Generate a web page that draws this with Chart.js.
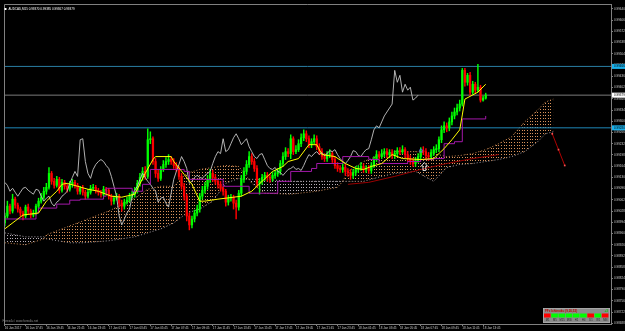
<!DOCTYPE html>
<html><head><meta charset="utf-8">
<script src="https://cdn.jsdelivr.net/npm/chart.js@4.4.1/dist/chart.umd.min.js"></script>
<style>html,body{margin:0;padding:0;background:#000;overflow:hidden}canvas{display:block}</style>
</head><body>
<canvas id="c" width="625" height="331"></canvas>
<script>
const symbol = 'AUDCAD,M15';
const timeLabels = ['16 Jan 2017','16 Jan 17:45','16 Jan 19:45','16 Jan 21:45','16 Jan 23:45',
 '17 Jan 01:45','17 Jan 03:45','17 Jan 05:45','17 Jan 07:45','17 Jan 09:45','17 Jan 11:45',
 '17 Jan 13:45','17 Jan 15:45','17 Jan 17:45','17 Jan 19:45','17 Jan 21:45','17 Jan 23:45',
 '18 Jan 01:45','18 Jan 03:45','18 Jan 05:45','18 Jan 07:45','18 Jan 09:45','18 Jan 11:45','18 Jan 13:45'];
const barsPerLabel = 8;
const priceTicks = [0.99640,0.99606,0.99572,0.99538,0.99504,0.99470,0.99436,0.99402,0.99368,0.99334,
 0.99300,0.99266,0.99232,0.99198,0.99164,0.99130,0.99096,0.99062,0.99028,0.98994,0.98960,0.98926,
 0.98892,0.98858,0.98824,0.98790,0.98756,0.98722,0.98688];

const opens = [
0.98992,0.99013,0.99043,0.99028,0.99064,0.99046,0.99034,0.99022,0.99013,0.99040,
0.99028,0.99016,0.99022,0.99043,0.99058,0.99070,0.99088,0.99100,0.99142,0.99118,
0.99106,0.99124,0.99091,0.99115,0.99103,0.99094,0.99109,0.99115,0.99106,0.99088,
0.99097,0.99085,0.99073,0.99085,0.99097,0.99100,0.99091,0.99085,0.99079,0.99094,
0.99091,0.99073,0.99058,0.99067,0.99073,0.99052,0.99043,0.99055,0.99061,0.99073,
0.99079,0.99088,0.99112,0.99130,0.99148,0.99133,0.99244,0.99247,0.99178,0.99142,
0.99127,0.99154,0.99169,0.99178,0.99184,0.99178,0.99166,0.99157,0.99133,0.99103,
0.99073,0.99013,0.98986,0.99004,0.99022,0.99034,0.99073,0.99091,0.99103,0.99124,
0.99142,0.99130,0.99118,0.99109,0.99097,0.99088,0.99055,0.99067,0.99070,0.99052,
0.99040,0.99082,0.99124,0.99148,0.99169,0.99193,0.99178,0.99157,0.99112,0.99118,
0.99130,0.99136,0.99130,0.99127,0.99136,0.99142,0.99148,0.99172,0.99193,0.99208,
0.99202,0.99247,0.99208,0.99214,0.99232,0.99250,0.99262,0.99247,0.99229,0.99238,
0.99247,0.99223,0.99208,0.99193,0.99187,0.99199,0.99202,0.99184,0.99166,0.99157,
0.99154,0.99160,0.99148,0.99145,0.99136,0.99145,0.99154,0.99157,0.99163,0.99154,
0.99157,0.99151,0.99166,0.99184,0.99199,0.99193,0.99202,0.99208,0.99199,0.99205,
0.99196,0.99202,0.99211,0.99208,0.99214,0.99199,0.99187,0.99178,0.99172,0.99181,
0.99193,0.99211,0.99208,0.99196,0.99193,0.99205,0.99214,0.99217,0.99244,0.99274,
0.99286,0.99280,0.99298,0.99316,0.99328,0.99340,0.99352,0.99454,0.99418,0.99439,
0.99388,0.99412,0.99394,0.99403,0.99364,0.99370];
const highs = [
0.99022,0.99058,0.99049,0.99079,0.99070,0.99052,0.99040,0.99028,0.99046,0.99049,
0.99034,0.99031,0.99049,0.99067,0.99082,0.99100,0.99112,0.99160,0.99148,0.99127,
0.99133,0.99130,0.99124,0.99121,0.99109,0.99118,0.99124,0.99121,0.99112,0.99103,
0.99106,0.99091,0.99094,0.99106,0.99109,0.99106,0.99097,0.99091,0.99103,0.99100,
0.99097,0.99079,0.99073,0.99082,0.99079,0.99061,0.99064,0.99070,0.99082,0.99088,
0.99100,0.99121,0.99142,0.99160,0.99163,0.99277,0.99268,0.99253,0.99187,0.99154,
0.99163,0.99181,0.99190,0.99199,0.99193,0.99187,0.99175,0.99163,0.99142,0.99112,
0.99079,0.99022,0.99013,0.99031,0.99046,0.99082,0.99103,0.99115,0.99136,0.99154,
0.99151,0.99139,0.99124,0.99118,0.99103,0.99094,0.99076,0.99079,0.99076,0.99061,
0.99091,0.99136,0.99160,0.99181,0.99208,0.99202,0.99187,0.99166,0.99127,0.99139,
0.99145,0.99145,0.99139,0.99145,0.99151,0.99157,0.99181,0.99205,0.99220,0.99217,
0.99259,0.99253,0.99226,0.99244,0.99262,0.99274,0.99271,0.99256,0.99247,0.99259,
0.99256,0.99232,0.99217,0.99202,0.99208,0.99214,0.99208,0.99193,0.99175,0.99166,
0.99172,0.99169,0.99157,0.99154,0.99154,0.99163,0.99166,0.99175,0.99172,0.99166,
0.99166,0.99175,0.99193,0.99211,0.99208,0.99214,0.99217,0.99217,0.99214,0.99214,
0.99211,0.99220,0.99220,0.99226,0.99220,0.99208,0.99196,0.99187,0.99190,0.99202,
0.99220,0.99223,0.99217,0.99205,0.99214,0.99223,0.99229,0.99253,0.99286,0.99298,
0.99295,0.99310,0.99328,0.99340,0.99352,0.99364,0.99460,0.99460,0.99445,0.99448,
0.99421,0.99418,0.99472,0.99409,0.99376,0.99385];
const lows = [
0.98983,0.99007,0.99019,0.99022,0.99037,0.99025,0.99013,0.99001,0.99007,0.99019,
0.99007,0.99010,0.99016,0.99037,0.99052,0.99064,0.99079,0.99094,0.99109,0.99097,
0.99100,0.99082,0.99085,0.99094,0.99085,0.99088,0.99100,0.99097,0.99079,0.99079,
0.99076,0.99064,0.99067,0.99079,0.99091,0.99082,0.99076,0.99070,0.99073,0.99082,
0.99064,0.99046,0.99049,0.99061,0.99040,0.99028,0.99034,0.99049,0.99055,0.99067,
0.99070,0.99082,0.99103,0.99121,0.99124,0.99127,0.99232,0.99169,0.99130,0.99118,
0.99121,0.99148,0.99160,0.99169,0.99169,0.99157,0.99148,0.99124,0.99094,0.99061,
0.98998,0.98971,0.98977,0.98995,0.99013,0.99025,0.99064,0.99082,0.99094,0.99115,
0.99118,0.99109,0.99097,0.99088,0.99076,0.99043,0.99046,0.99058,0.99034,0.99004,
0.99031,0.99073,0.99115,0.99139,0.99160,0.99169,0.99148,0.99100,0.99079,0.99109,
0.99121,0.99118,0.99115,0.99118,0.99127,0.99133,0.99139,0.99163,0.99184,0.99193,
0.99187,0.99199,0.99202,0.99208,0.99223,0.99241,0.99238,0.99220,0.99220,0.99232,
0.99214,0.99199,0.99184,0.99178,0.99178,0.99190,0.99175,0.99157,0.99148,0.99145,
0.99145,0.99136,0.99133,0.99124,0.99127,0.99136,0.99145,0.99151,0.99145,0.99145,
0.99142,0.99142,0.99160,0.99178,0.99184,0.99187,0.99193,0.99190,0.99190,0.99187,
0.99187,0.99193,0.99199,0.99202,0.99190,0.99178,0.99169,0.99163,0.99163,0.99175,
0.99184,0.99199,0.99187,0.99181,0.99184,0.99196,0.99205,0.99208,0.99235,0.99265,
0.99268,0.99271,0.99289,0.99307,0.99319,0.99331,0.99346,0.99406,0.99409,0.99379,
0.99382,0.99385,0.99388,0.99358,0.99361,0.99367];
const closes = [
0.99013,0.99043,0.99028,0.99064,0.99046,0.99034,0.99022,0.99013,0.99040,0.99028,
0.99016,0.99022,0.99043,0.99058,0.99070,0.99088,0.99100,0.99142,0.99118,0.99106,
0.99124,0.99091,0.99115,0.99103,0.99094,0.99109,0.99115,0.99106,0.99088,0.99097,
0.99085,0.99073,0.99085,0.99097,0.99100,0.99091,0.99085,0.99079,0.99094,0.99091,
0.99073,0.99058,0.99067,0.99073,0.99052,0.99043,0.99055,0.99061,0.99073,0.99079,
0.99088,0.99112,0.99130,0.99148,0.99133,0.99244,0.99247,0.99178,0.99142,0.99127,
0.99154,0.99169,0.99178,0.99184,0.99178,0.99166,0.99157,0.99133,0.99103,0.99073,
0.99013,0.98986,0.99004,0.99022,0.99034,0.99073,0.99091,0.99103,0.99124,0.99142,
0.99130,0.99118,0.99109,0.99097,0.99088,0.99055,0.99067,0.99070,0.99052,0.99040,
0.99082,0.99124,0.99148,0.99169,0.99193,0.99178,0.99157,0.99112,0.99118,0.99130,
0.99136,0.99130,0.99127,0.99136,0.99142,0.99148,0.99172,0.99193,0.99208,0.99202,
0.99247,0.99208,0.99214,0.99232,0.99250,0.99262,0.99247,0.99229,0.99238,0.99247,
0.99223,0.99208,0.99193,0.99187,0.99199,0.99202,0.99184,0.99166,0.99157,0.99154,
0.99160,0.99148,0.99145,0.99136,0.99145,0.99154,0.99157,0.99163,0.99154,0.99157,
0.99151,0.99166,0.99184,0.99199,0.99193,0.99202,0.99208,0.99199,0.99205,0.99196,
0.99202,0.99211,0.99208,0.99214,0.99199,0.99187,0.99178,0.99172,0.99181,0.99193,
0.99211,0.99208,0.99196,0.99193,0.99205,0.99214,0.99217,0.99244,0.99274,0.99286,
0.99280,0.99298,0.99316,0.99328,0.99340,0.99352,0.99454,0.99418,0.99439,0.99388,
0.99412,0.99394,0.99403,0.99364,0.99370,0.99379];

// Tenkan-sen (yellow)
const tenkanBars = [0,4,7,13,16,20,22,24,28,32,36,41,45,50,54,57,58,64,65,69,72,75,77,82,91,95,103,107,109,113,117,120,122,127,131,135,138,141,145,149,153,160,165,169,172,175,176,177,182,185];
const tenkan = [0.98974,0.98998,0.99016,0.99022,0.99058,0.99088,0.99109,0.99112,0.99103,0.99094,
 0.99088,0.99073,0.99070,0.99079,0.99142,0.99184,0.99193,0.99193,0.99178,0.99139,
 0.99109,0.99058,0.99058,0.99064,0.99073,0.99088,0.99148,0.99163,0.99178,0.99187,
 0.99229,0.99229,0.99199,0.99193,0.99172,0.99157,0.99154,0.99163,0.99172,0.99199,
 0.99187,0.99184,0.99187,0.99217,0.99244,0.99274,0.99319,0.99367,0.99388,0.99412];
// Kijun-sen (purple), level changes
const kijunBars = [0,12,13,20,25,29,38,39,49,53,56,69,71,84,94,105,110,118,120,130,140,144,155,160,165,169,173,176,185];
const kijun = [0.99004,0.99022,0.99037,0.99049,0.99061,0.99064,0.99073,0.99097,0.99088,0.99109,
 0.99154,0.99148,0.99124,0.99103,0.99082,0.99118,0.99148,0.99157,0.99172,0.99193,
 0.99184,0.99172,0.99178,0.99184,0.99187,0.99232,0.99238,0.99307,0.99316];
// Kumo (Senkou span A / B), shifted 26 bars ahead
const kumoBars = [0,8,15,16,25,30,40,50,55,60,65,70,75,80,85,90,93,94,95,100,110,120,128,130,132,138,145,150,158,165,170,175,180,185,190,195,200,205,208,211];
const spanA = [0.98932,0.98926,0.98944,0.98956,0.98983,0.98998,0.99028,0.99067,0.99094,0.99103,
 0.99103,0.99142,0.99154,0.99160,0.99166,0.99163,0.99133,0.99124,0.99112,0.99082,0.99079,
 0.99088,0.99100,0.99118,0.99148,0.99178,0.99199,0.99208,0.99208,0.99202,0.99193,0.99196,
 0.99202,0.99214,0.99232,0.99253,0.99298,0.99334,0.99358,0.99367];
const spanB = [0.98962,0.98950,0.98950,0.98944,0.98932,0.98932,0.98938,0.98950,0.98962,0.98974,
 0.98992,0.99022,0.99034,0.99058,0.99112,0.99127,0.99124,0.99124,0.99124,0.99124,0.99118,
 0.99118,0.99118,0.99118,0.99118,0.99118,0.99133,0.99142,0.99148,0.99118,0.99160,0.99169,
 0.99172,0.99178,0.99184,0.99193,0.99208,0.99238,0.99262,0.99268];
// cloud sections between span crossings: [first sample, last sample, colour]
const kumoSegments = [[0,2,'dn'],[2,17,'up'],[17,23,'dn'],[23,39,'up']];
const chikouShift = 26; // lagging span = closes drawn 26 bars back
const maBars = [132,140,150,160,170,180,190];
const maLine = [0.99109,0.99115,0.99133,0.99154,0.99172,0.99187,0.99199];
const projBars = [210.6,213,215.4];
const projLine = [0.99262,0.99214,0.99166];
const levels = [0.99466, 0.99280];
const bid = 0.99379;
const signalBar = 161.4, signalPrice = 0.99175;
const dotBar = 160.1, dotPrice = 0.99211;
const tfNames = ['M1','M5','M15','M30','H1','H4','D1','W1','MN'];
const tfTrend = [-1,1,1,1,1,1,-1,1,-1];
const watermark = 'Forex4u / www.forex4u.net';

const ctx = document.getElementById('c').getContext('2d');
function dotPattern(color){
  const p = document.createElement('canvas'); p.width = 13; p.height = 3;
  const g = p.getContext('2d'); g.fillStyle = color;
  [2,4,7,10,12].forEach(x => g.fillRect(x, 1, 1, 1));
  return ctx.createPattern(p, 'repeat');
}
const patUp = dotPattern('#d8925a');
const patDn = dotPattern('#b8aeb8');

const n = closes.length;
const bodyColors = closes.map((c,i) => c >= opens[i] ? '#00ff00' : '#ff0000');
const pts = (bars, vals) => bars.map((b,k) => ({x:b, y:vals[k]}));
const XMIN = -0.3, XMAX = 233.2;

const kumoDatasets = [];
kumoSegments.forEach(([s, e, t]) => {
  const bars = kumoBars.slice(s, e+1);
  kumoDatasets.push({ type:'line', data: pts(bars, spanA.slice(s, e+1)), borderColor:'#c8864f', borderWidth:1,
    borderDash:[1,2], pointRadius:0, fill:'+1', backgroundColor: t === 'up' ? patUp : patDn, order:19 });
  kumoDatasets.push({ type:'line', data: pts(bars, spanB.slice(s, e+1)), borderColor:'#a8a0a8', borderWidth:1,
    borderDash:[1,2], pointRadius:0, fill:false, order:20 });
});

const decor = {
  id: 'decor',
  beforeDraw(chart){
    const c = chart.ctx; c.save(); c.fillStyle = '#000'; c.fillRect(0,0,chart.width,chart.height); c.restore();
  },
  afterDraw(chart){
    const c = chart.ctx, a = chart.chartArea, xs = chart.scales.x, ys = chart.scales.y;
    c.save();
    c.strokeStyle = '#808080'; c.lineWidth = 1;
    c.beginPath(); c.moveTo(a.left+0.5, a.bottom); c.lineTo(a.left+0.5, a.top+0.5); c.lineTo(a.right, a.top+0.5); c.stroke();
    // signal arrow
    const ax = xs.getPixelForValue(signalBar), ay = ys.getPixelForValue(signalPrice);
    c.strokeStyle = '#ffffff'; c.lineWidth = 0.8; c.beginPath();
    c.moveTo(ax, ay); c.lineTo(ax+3, ay+3.5); c.lineTo(ax+1.4, ay+3.5); c.lineTo(ax+1.4, ay+8);
    c.lineTo(ax-1.4, ay+8); c.lineTo(ax-1.4, ay+3.5); c.lineTo(ax-3, ay+3.5); c.closePath(); c.stroke();
    // dot
    const dx = xs.getPixelForValue(dotBar), dy = ys.getPixelForValue(dotPrice);
    c.strokeStyle = '#5a6cff'; c.beginPath(); c.arc(dx, dy, 1.5, 0, Math.PI*2); c.stroke();
    // header
    c.font = '3px "Liberation Sans"'; c.textBaseline = 'middle'; c.textAlign = 'left';
    c.fillStyle = '#ffffff'; c.fillRect(4.5, 8, 2, 2);
    c.fillText(symbol + ' ' + [opens[n-1], highs[n-1], lows[n-1], closes[n-1]].map(v => v.toFixed(5)).join(' '), 8.5, 9.2);
    // watermark
    c.fillStyle = '#8a8a8a'; c.fillText(watermark, 2.5, a.bottom - 3);
    // timeframe widget
    const wx = a.right - 68, wy = a.bottom - 16;
    c.fillStyle = '#8c8c8c'; c.fillRect(wx, wy, 67, 15);
    c.strokeStyle = '#b8b8b8'; c.lineWidth = 0.6; c.strokeRect(wx+0.3, wy+0.3, 66.4, 14.4);
    c.font = 'bold 3px "Liberation Sans"'; c.fillStyle = '#c00000';
    c.fillText('FFx Ichimoku (9,26,52)', wx+2, wy+3);
    c.fillStyle = '#00d000'; c.textAlign = 'right'; c.fillText('+3', wx+65, wy+3);
    const cw = 65/tfNames.length;
    tfNames.forEach((t,k) => {
      c.fillStyle = tfTrend[k] > 0 ? '#00ff00' : '#ff0000';
      c.fillRect(wx+1+k*cw, wy+5.5, cw-0.6, 4);
      c.fillStyle = '#202020'; c.textAlign = 'center'; c.font = '2.6px "Liberation Sans"';
      c.fillText(t, wx+1+k*cw+cw/2, wy+12.2);
    });
    // price tags on axis
    c.font = '3px "Liberation Sans"'; c.textAlign = 'left';
    const tag = (v, bg) => {
      const y = ys.getPixelForValue(v);
      c.fillStyle = bg; c.fillRect(a.right+1, y-2.5, 14, 5);
      c.fillStyle = '#000'; c.fillText(v.toFixed(5), a.right+3, y+0.2);
    };
    levels.forEach(v => tag(v, '#1ab0ea'));
    tag(bid, '#ffffff');
    c.restore();
  }
};

new Chart(ctx, {
  type: 'bar',
  data: { datasets: [
    { type:'line', data: pts(projBars, projLine), borderColor:'#b00000', borderWidth:1, pointRadius:1.2,
      pointStyle:'rect', pointBackgroundColor:'#ff5050', pointBorderWidth:0, order:1 },
    { type:'line', data: pts(tenkanBars, tenkan), borderColor:'#ffff00', borderWidth:1, pointRadius:0, order:2 },
    { type:'line', data: pts(kijunBars, kijun), borderColor:'#a418aa', borderWidth:1, pointRadius:0, stepped:'before', order:3 },
    { type:'line', data: closes.slice(chikouShift).map((v,j) => ({x:j, y:v})), borderColor:'#c4c4c4', borderWidth:0.9, pointRadius:0, order:4 },
    { type:'bar', data: closes.map((c,i) => ({x:i, y:[opens[i], c]})), backgroundColor: bodyColors,
      barThickness:1.6, grouped:false, borderWidth:0, order:6 },
    { type:'bar', data: closes.map((c,i) => ({x:i, y:[lows[i], highs[i]]})), backgroundColor: bodyColors,
      barThickness:0.8, grouped:false, borderWidth:0, order:7 },
    { type:'line', data: pts(maBars, maLine), borderColor:'#9a0000', borderWidth:1, pointRadius:0, order:8 },
    { type:'line', data: [{x:XMIN,y:levels[0]},{x:XMAX,y:levels[0]}], borderColor:'#2a7fa4', borderWidth:1, pointRadius:0, order:9 },
    { type:'line', data: [{x:XMIN,y:levels[1]},{x:XMAX,y:levels[1]}], borderColor:'#1f88b8', borderWidth:1, pointRadius:0, order:9 },
    { type:'line', data: [{x:XMIN,y:bid},{x:XMAX,y:bid}], borderColor:'#7a7a7a', borderWidth:1, pointRadius:0, order:9 },
    ...kumoDatasets
  ]},
  options: {
    animation:false, responsive:false, devicePixelRatio:1,
    layout:{padding:{left:1, top:1, right:0, bottom:0}},
    plugins:{legend:{display:false}, tooltip:{enabled:false}, title:{display:false}},
    scales:{
      x:{ type:'linear', min:XMIN, max:XMAX, offset:false,
        grid:{drawOnChartArea:false, drawTicks:true, tickLength:2, color:'#808080', offset:false},
        border:{display:true, color:'#808080'},
        afterBuildTicks: s => { s.ticks = timeLabels.map((_,k) => ({value:k*barsPerLabel})); },
        ticks:{ autoSkip:false, maxRotation:0, minRotation:0, align:'start', padding:0, color:'#c8c8c8',
          font:{family:'Liberation Sans', size:3}, callback:(v, i) => timeLabels[i] },
        afterFit: s => { s.height = 7; s.paddingLeft = 0; s.paddingRight = 0; }
      },
      y:{ type:'linear', position:'right', min:0.98686, max:0.99655,
        grid:{drawOnChartArea:false, drawTicks:true, tickLength:2, color:'#808080'},
        border:{display:true, color:'#808080'},
        afterBuildTicks: s => { s.ticks = priceTicks.map(v => ({value:v})); },
        ticks:{ autoSkip:false, padding:1, color:'#c8c8c8', font:{family:'Liberation Sans', size:3},
          callback: v => v.toFixed(5) },
        afterFit: s => { s.width = 14; s.paddingTop = 0; s.paddingBottom = 0; }
      }
    }
  },
  plugins:[decor]
});
</script>
</body></html>
